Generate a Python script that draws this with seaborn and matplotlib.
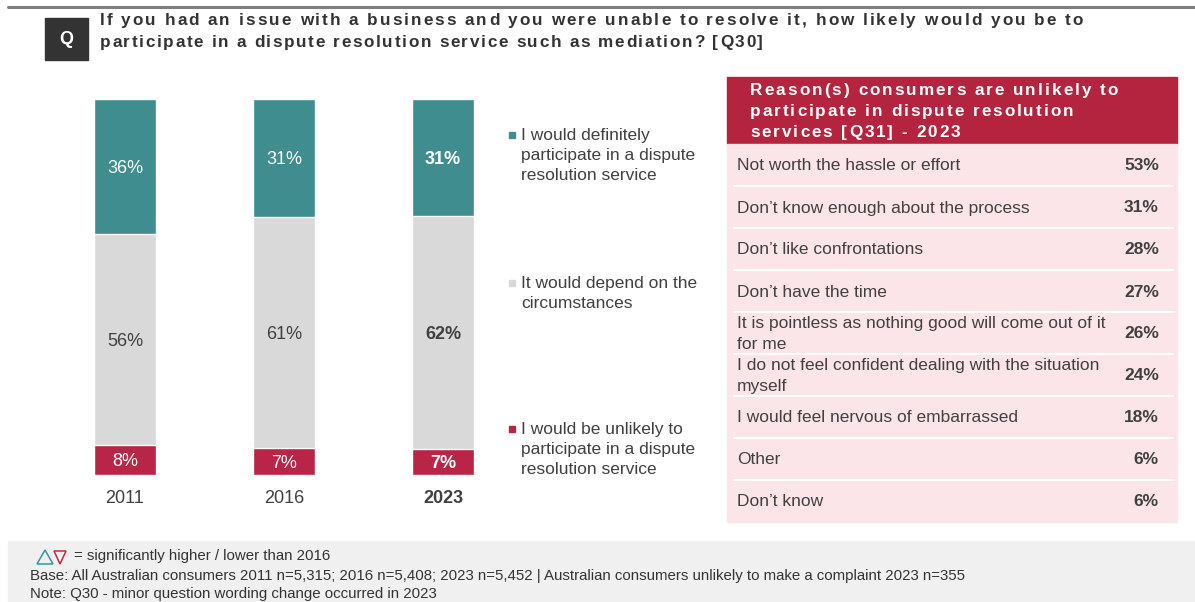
import matplotlib
matplotlib.use("Agg")
import matplotlib.pyplot as plt
from matplotlib.patches import Rectangle, Polygon
from matplotlib.font_manager import FontProperties
import seaborn as sns
import pandas as pd
import numpy as np

# ---- data ----
years = ["2011", "2016", "2023"]
definitely = [36, 31, 31]
depends = [56, 61, 62]
unlikely = [8, 7, 7]

legend_labels = [
    "I would definitely\nparticipate in a dispute\nresolution service",
    "It would depend on the\ncircumstances",
    "I would be unlikely to\nparticipate in a dispute\nresolution service",
]

reasons = [
    "Not worth the hassle or effort",
    "Don\u2019t know enough about the process",
    "Don\u2019t like confrontations",
    "Don\u2019t have the time",
    "It is pointless as nothing good will come out of it\nfor me",
    "I do not feel confident dealing with the situation\nmyself",
    "I would feel nervous of embarrassed",
    "Other",
    "Don\u2019t know",
]
reason_pct = [53, 31, 28, 27, 26, 24, 18, 6, 6]

title_lines = [
    "If you had an issue with a business and you were unable to resolve it, how likely would you be to",
    "participate in a dispute resolution service such as mediation? [Q30]",
]
table_title = [
    "Reason(s) consumers are unlikely to",
    "participate in dispute resolution",
    "services [Q31] - 2023",
]
footer_lines = [
    "= significantly higher / lower than 2016",
    "Base: All Australian consumers 2011 n=5,315; 2016 n=5,408; 2023 n=5,452 | Australian consumers unlikely to make a complaint 2023 n=355",
    "Note: Q30 - minor question wording change occurred in 2023",
]

# ---- style ----
TEAL = "#3F8D8E"
GREY = "#D9D9D9"
RED = "#B92547"
HEAD = "#B5243F"
PINK = "#FCE5E9"
TXT = "#404040"
FONT = ["Liberation Sans", "DejaVu Sans"]

sns.set_theme(style="white")
plt.rcParams["font.family"] = FONT

W, H = 1195, 602
fig = plt.figure(figsize=(W / 100, H / 100), dpi=100)
renderer = fig.canvas.get_renderer()


def fx(px):
    return px / W


def fy(py):
    return 1 - py / H


def spaced_text(x0, y0, s, size, color, target_width, weight="bold"):
    """Draw a string character by character, tracked out to a given width (px)."""
    fp = FontProperties(family=FONT, size=size, weight=weight)

    def width(t):
        if not t:
            return 0.0
        w, _, _ = renderer.get_text_width_height_descent(t, fp, ismath=False)
        return w

    spacing = (target_width - width(s)) / max(len(s) - 1, 1)
    for i, ch in enumerate(s):
        if ch == " ":
            continue
        xp = x0 + width(s[:i]) + i * spacing
        fig.text(fx(xp), fy(y0), ch, fontproperties=fp, color=color,
                 ha="left", va="center_baseline")


# ---- header ----
fig.add_artist(plt.Line2D([fx(8), fx(1195)], [fy(7), fy(7)], color="#808080", lw=2.2))
fig.add_artist(Rectangle((fx(45), fy(60)), fx(43), 42 / H, color="#333333",
                         transform=fig.transFigure))
fig.text(fx(66.5), fy(40), "Q", color="white", fontsize=13, fontweight="bold",
         ha="center", va="center")
spaced_text(100, 19, title_lines[0], 12.3, "#333333", 983)
spaced_text(100, 41, title_lines[1], 12.3, "#333333", 663)

# ---- stacked bars ----
ax = fig.add_axes([fx(45.5), fy(475), fx(477), 376 / H])
totals = np.array(definitely) + np.array(depends) + np.array(unlikely)
df = pd.DataFrame({
    "year": years,
    "unlikely": np.array(unlikely) / totals * 100,
    "depends": np.array(depends) / totals * 100,
    "definitely": np.array(definitely) / totals * 100,
})
df["cum_red"] = df["unlikely"]
df["cum_grey"] = df["unlikely"] + df["depends"]
df["cum_teal"] = df["cum_grey"] + df["definitely"]

bw = 62 / 159
for col, colr in [("cum_teal", TEAL), ("cum_grey", GREY), ("cum_red", RED)]:
    sns.barplot(data=df, x="year", y=col, color=colr, width=bw, ax=ax,
                saturation=1, edgecolor="white", linewidth=1)
ax.set_xlim(-0.5, 2.5)
ax.set_ylim(0, 100)
ax.axis("off")

for i, yr in enumerate(years):
    wt = "bold" if yr == "2023" else "normal"
    segs = [
        (df.loc[i, "cum_red"] / 2, unlikely[i], "white"),
        ((df.loc[i, "cum_red"] + df.loc[i, "cum_grey"]) / 2, depends[i], TXT),
        ((df.loc[i, "cum_grey"] + df.loc[i, "cum_teal"]) / 2, definitely[i], "white"),
    ]
    for yc, v, c in segs:
        ax.text(i, yc, f"{v}%", ha="center", va="center_baseline", color=c,
                fontsize=13, fontweight=wt)
    ax.text(i, -5.6, yr, ha="center", va="center_baseline", color=TXT,
            fontsize=13, fontweight=wt)

# ---- legend ----
leg_y = [135, 283, 429]
for lab, yy, c in zip(legend_labels, leg_y, [TEAL, GREY, RED]):
    fig.add_artist(Rectangle((fx(509), fy(yy + 3)), fx(6), 6 / H, color=c,
                             transform=fig.transFigure))
    fig.text(fx(521), fy(yy - 7), lab, ha="left", va="top", color=TXT,
             fontsize=12.5, linespacing=1.42)

# ---- reasons table ----
tx0, tx1 = 727, 1177
fig.add_artist(Rectangle((fx(tx0), fy(144)), fx(tx1 - tx0), 67 / H, color=HEAD,
                         transform=fig.transFigure))
title_widths = [368, 323, 210]
for k, (line, tw) in enumerate(zip(table_title, title_widths)):
    spaced_text(750, 89 + k * 21, line, 12.3, "white", tw)

row_h = (522 - 144) / len(reasons)
fig.add_artist(Rectangle((fx(tx0), fy(522)), fx(tx1 - tx0), 378 / H, color=PINK,
                         transform=fig.transFigure))
for k, (lab, v) in enumerate(zip(reasons, reason_pct)):
    y_top = 144 + k * row_h
    yc = y_top + row_h / 2
    if k > 0:
        fig.add_artist(plt.Line2D([fx(734), fx(1173)], [fy(y_top), fy(y_top)],
                                  color="white", lw=1.5))
    fig.text(fx(737), fy(yc + 1), lab, ha="left", va="center", color=TXT,
             fontsize=12.5, linespacing=1.42)
    fig.text(fx(1159), fy(yc + 1), f"{v}%", ha="right", va="center", color=TXT,
             fontsize=12.5, fontweight="bold")

# ---- footer ----
fig.add_artist(Rectangle((fx(8), 0), fx(1187), fy(541), color="#F0F0F0",
                         transform=fig.transFigure))
up = [(37, 564), (53, 564), (45, 550)]
dn = [(54, 551), (66, 551), (60, 564)]
fig.add_artist(Polygon([(fx(a), fy(b)) for a, b in up], closed=True, fill=False,
                       edgecolor="#2E9C9A", lw=1.1, transform=fig.transFigure))
fig.add_artist(Polygon([(fx(a), fy(b)) for a, b in dn], closed=True, fill=False,
                       edgecolor="#C8283F", lw=1.1, transform=fig.transFigure))
for text, x0, y0 in zip(footer_lines, [74, 30, 30], [556, 576, 594]):
    fig.text(fx(x0), fy(y0), text, ha="left", va="center",
             color="#333333", fontsize=10.8)

fig.savefig("out.png", dpi=100)
